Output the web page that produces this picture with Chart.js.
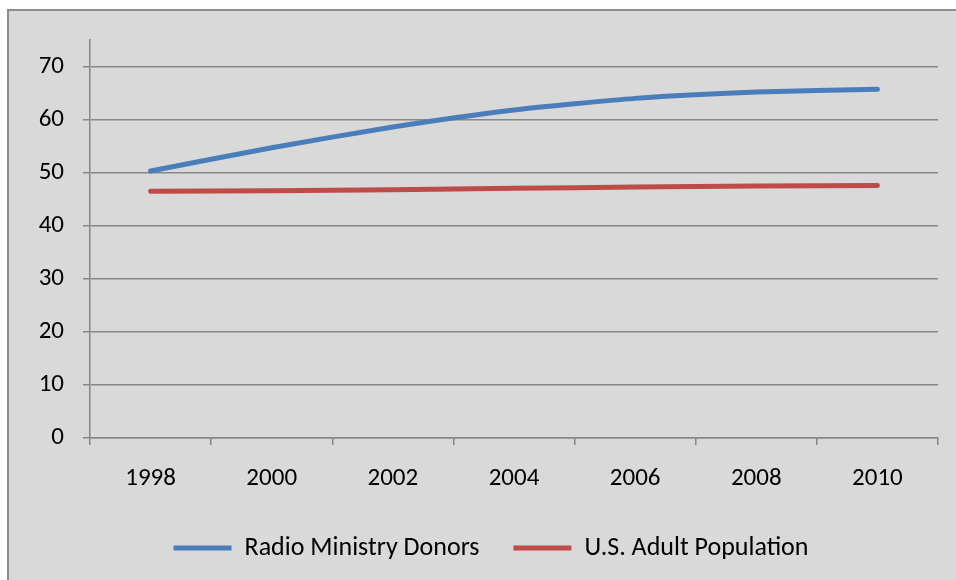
<!DOCTYPE html>
<html>
<head>
<meta charset="utf-8">
<script src="https://cdn.jsdelivr.net/npm/chart.js@4/dist/chart.umd.min.js"></script>
<style>
  html, body { margin: 0; padding: 0; background: #ffffff; }
  #wrap { position: absolute; left: 0; top: 0; width: 956px; height: 580px; }
</style>
</head>
<body>
<div id="wrap"><canvas id="chart" width="956" height="580"></canvas></div>
<script>
// chart data
const years = ['1998', '2000', '2002', '2004', '2006', '2008', '2010'];
const donors = [50.3, 54.7, 58.6, 61.8, 64.0, 65.2, 65.7];
const adults = [46.5, 46.6, 46.8, 47.05, 47.3, 47.5, 47.6];
const yTicks = [0, 10, 20, 30, 40, 50, 60, 70];

const FONT = 'Carlito, Lato, "Open Sans", sans-serif';
const GRID = '#878787';

// grey panel with a thin border, cut off at right/bottom like the screenshot
const panel = {
    id: 'panel',
    beforeDraw(chart) {
        const c = chart.ctx;
        c.save();
        c.fillStyle = '#d9d9d9';
        c.fillRect(7, 9, chart.width, chart.height);
        c.strokeStyle = '#8c8c8c';
        c.lineWidth = 2;
        c.beginPath();
        c.moveTo(8, chart.height);
        c.lineTo(8, 10);
        c.lineTo(chart.width, 10);
        c.stroke();
        c.restore();
    }
};

// the legend in the original sits a bit right of the canvas centre
const nudgeLegend = {
    id: 'nudgeLegend',
    afterLayout(chart) {
        if (chart.legend) {
            chart.legend.left += 22;
            chart.legend.right += 22;
        }
    }
};

new Chart(document.getElementById('chart'), {
    type: 'line',
    data: {
        labels: years,
        datasets: [
            {
                label: 'Radio Ministry Donors',
                data: donors,
                borderColor: '#4a7ebb',
                backgroundColor: '#4a7ebb',
                borderWidth: 5,
                borderCapStyle: 'round',
                tension: 0.2,
                pointRadius: 0
            },
            {
                label: 'U.S. Adult Population',
                data: adults,
                borderColor: '#be4b48',
                backgroundColor: '#be4b48',
                borderWidth: 5,
                borderCapStyle: 'round',
                tension: 0.2,
                pointRadius: 0
            }
        ]
    },
    options: {
        responsive: false,
        animation: false,
        layout: { padding: { left: 0, top: 40, right: 18, bottom: 9 } },
        scales: {
            x: {
                offset: true,
                grid: {
                    offset: true,
                    drawOnChartArea: false,
                    drawTicks: true,
                    tickLength: 7,
                    color: GRID,
                    lineWidth: 1.5
                },
                border: { color: GRID, width: 1.5 },
                ticks: { color: '#000', font: { family: FONT, size: 25 }, padding: 19 },
                afterFit(scale) { scale.height = 63; }
            },
            y: {
                min: 0,
                max: 75,
                afterBuildTicks(scale) { scale.ticks = yTicks.map(v => ({ value: v })); },
                grid: { color: GRID, lineWidth: 1.5, tickLength: 7 },
                border: { color: GRID, width: 1.5 },
                ticks: { color: '#000', font: { family: FONT, size: 25 }, padding: 19 },
                afterFit(scale) { scale.width = 90; }
            }
        },
        plugins: {
            tooltip: { enabled: false },
            legend: {
                position: 'bottom',
                labels: {
                    color: '#000',
                    font: { family: FONT, size: 26 },
                    usePointStyle: true,
                    pointStyle: 'line',
                    pointStyleWidth: 58,
                    padding: 34
                }
            }
        }
    },
    plugins: [panel, nudgeLegend]
});
</script>
</body>
</html>
